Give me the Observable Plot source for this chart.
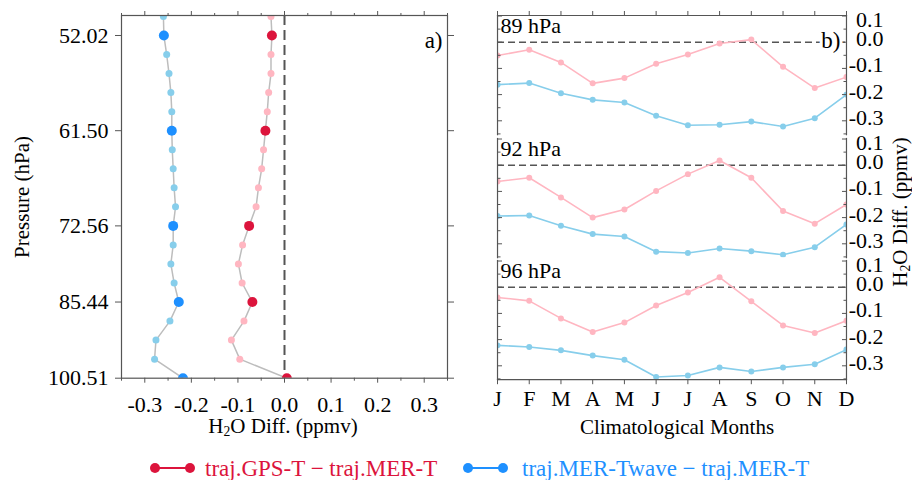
<!DOCTYPE html>
<html><head><meta charset="utf-8">
<script src="https://cdn.jsdelivr.net/npm/d3@7"></script>
<script src="https://cdn.jsdelivr.net/npm/@observablehq/plot@0.6"></script>
<style>
body{margin:0;background:#fff;}
#root{position:relative;width:912px;height:480px;overflow:hidden;font-family:"Liberation Serif","Times New Roman",serif;color:#000;background:#fff;}
#root svg.plotsvg{position:absolute;}
.lbl{position:absolute;white-space:nowrap;font-size:21px;line-height:1;}
.lbl sub{font-size:0.65em;vertical-align:-0.25em;line-height:0;}
</style></head><body><div id="root"></div>
<script>
// ---- Panel a) : vertical profile ----
const levelIndex = [0,1,2,3,4,5,6,7,8,9,10,11,12,13,14,15,16,17,18,19];
const gpsProfile  = [-0.029,-0.027,-0.029,-0.029,-0.034,-0.037,-0.041,-0.045,-0.049,-0.056,-0.061,-0.076,-0.090,-0.099,-0.091,-0.069,-0.087,-0.114,-0.096,0.005];
const waveProfile = [-0.260,-0.259,-0.253,-0.248,-0.244,-0.242,-0.242,-0.241,-0.239,-0.237,-0.234,-0.239,-0.239,-0.244,-0.237,-0.227,-0.246,-0.276,-0.279,-0.218];
const levelTickIndex  = [1,6,11,15,19];
const levelTickLabels = ["52.02","61.50","72.56","85.44","100.51"];
const xMajorTicks = [-0.3,-0.2,-0.1,0,0.1,0.2,0.3];
const xMinorTicks = [-0.35,-0.25,-0.15,-0.05,0.05,0.15,0.25,0.35];

// ---- Panel b) : monthly climatology ----
const months = ["J","F","M","A","M","J","J","A","S","O","N","D"];
const monthIdx = [0,1,2,3,4,5,6,7,8,9,10,11];
const panelLabels = ["89 hPa","92 hPa","96 hPa"];
const gps89  = [-0.051,-0.029,-0.077,-0.157,-0.137,-0.082,-0.047,-0.005,0.010,-0.094,-0.175,-0.133];
const wave89 = [-0.162,-0.156,-0.195,-0.220,-0.230,-0.281,-0.317,-0.315,-0.303,-0.322,-0.290,-0.200];
const gps92  = [-0.062,-0.048,-0.123,-0.200,-0.169,-0.098,-0.034,0.018,-0.048,-0.175,-0.223,-0.150];
const wave92 = [-0.194,-0.192,-0.231,-0.263,-0.272,-0.330,-0.335,-0.318,-0.328,-0.342,-0.313,-0.226];
const gps96  = [-0.039,-0.052,-0.119,-0.171,-0.135,-0.070,-0.020,0.038,-0.054,-0.146,-0.175,-0.128];
const wave96 = [-0.222,-0.228,-0.241,-0.261,-0.277,-0.343,-0.337,-0.306,-0.322,-0.306,-0.294,-0.238];
const yMajorTicks = [-0.3,-0.2,-0.1,0,0.1];
const yLowerLabels = [-0.3,-0.2,-0.1,0];
const yTopLabels = [0.1];
const yMinorTicks = [-0.35,-0.25,-0.15,-0.05,0.05];

const RED = "#DC143C", BLUE = "#1E90FF", PINK = "#FFB6C1", SKY = "#87CEEB";
const AXC = "#555";
const FONT = "Liberation Serif, Times New Roman, serif";
const root = document.getElementById("root");
const baseStyle = {fontFamily: FONT, fontSize: "22px", background: "transparent", overflow: "visible", color: "#000"};
const fmt1 = d => (Math.abs(d) < 1e-9 ? 0 : d).toFixed(1);

function place(svg, left, top) {
  svg.classList.add("plotsvg");
  svg.style.position = "absolute";
  svg.style.left = left + "px";
  svg.style.top = top + "px";
  svg.style.maxWidth = "none";
  root.appendChild(svg);
}

// Left plot
const profRows = levelIndex.map((i, k) => ({i, gps: gpsProfile[k], wave: waveProfile[k], major: levelTickIndex.includes(i)}));
const leftPlot = Plot.plot({
  width: 470, height: 420,
  marginLeft: 121, marginRight: 23, marginTop: 15, marginBottom: 42.3,
  x: {domain: [-0.35, 0.35], label: null},
  y: {domain: [19, -0.05], label: null},
  style: baseStyle,
  marks: [
    Plot.ruleX([0], {stroke: AXC, strokeWidth: 2, strokeDasharray: "10,5"}),
    Plot.line(profRows, {x: "wave", y: "i", stroke: "#bdbdbd", strokeWidth: 1.5, clip: true}),
    Plot.line(profRows, {x: "gps", y: "i", stroke: "#bdbdbd", strokeWidth: 1.5, clip: true}),
    Plot.dot(profRows.filter(d => !d.major), {x: "wave", y: "i", r: 3.5, fill: SKY, clip: true}),
    Plot.dot(profRows.filter(d => !d.major), {x: "gps", y: "i", r: 3.5, fill: PINK, clip: true}),
    Plot.dot(profRows.filter(d => d.major), {x: "wave", y: "i", r: 5, fill: BLUE, clip: true}),
    Plot.dot(profRows.filter(d => d.major), {x: "gps", y: "i", r: 5, fill: RED, clip: true}),
    Plot.frame({stroke: AXC, strokeWidth: 1.2}),
    Plot.axisX(xMajorTicks, {anchor: "bottom", tickSize: 5, tickPadding: 13, tickFormat: fmt1, label: null, stroke: AXC, fill: "#000"}),
    Plot.axisX(xMinorTicks, {anchor: "bottom", tickSize: 3, tickFormat: () => "", label: null, stroke: AXC}),
    Plot.axisX(xMajorTicks, {anchor: "top", tickSize: 5, tickFormat: () => "", label: null, stroke: AXC}),
    Plot.axisX(xMinorTicks, {anchor: "top", tickSize: 3, tickFormat: () => "", label: null, stroke: AXC}),
    Plot.axisY(levelTickIndex, {anchor: "left", tickSize: 6, tickPadding: 7, tickFormat: d => levelTickLabels[levelTickIndex.indexOf(d)], label: null, stroke: AXC, fill: "#000"}),
    Plot.axisY(levelTickIndex, {anchor: "right", tickSize: 6, tickFormat: () => "", label: null, stroke: AXC}),
    Plot.text(["a)"], {frameAnchor: "top-right", dx: -5, dy: 16.5, fontSize: 23, fill: "#000"})
  ]
});
place(leftPlot, 0, 0);

// Right subpanels
const PH = 119.2;
function subPanel(label, gps, wave, o) {
  const rows = monthIdx.map(i => ({i, gps: gps[i], wave: wave[i]}));
  return Plot.plot({
    width: 432, height: o.mt + PH + o.mb,
    marginLeft: 17, marginRight: 66, marginTop: o.mt, marginBottom: o.mb,
    x: {domain: [0, 11], label: null, axis: null},
    y: {domain: [-0.353, 0.102], label: null, axis: null},
    style: baseStyle,
    marks: [
      Plot.ruleY([0], {stroke: AXC, strokeWidth: 1.5, strokeDasharray: "7,4"}),
      Plot.line(rows, {x: "i", y: "gps", stroke: PINK, strokeWidth: 1.6, clip: true}),
      Plot.dot(rows, {x: "i", y: "gps", r: 3, fill: PINK, clip: true}),
      Plot.line(rows, {x: "i", y: "wave", stroke: SKY, strokeWidth: 1.6, clip: true}),
      Plot.dot(rows, {x: "i", y: "wave", r: 3, fill: SKY, clip: true}),
      Plot.frame({anchor: "left", stroke: AXC, strokeWidth: 1.2}),
      Plot.frame({anchor: "right", stroke: AXC, strokeWidth: 1.2}),
      o.top ? Plot.frame({anchor: "top", stroke: AXC, strokeWidth: 1.2}) : null,
      o.top ? Plot.axisX(monthIdx, {anchor: "top", tickSize: 5, tickFormat: () => "", label: null, stroke: AXC}) : null,
      o.bottom ? Plot.frame({anchor: "bottom", stroke: AXC, strokeWidth: 1.2}) : null,
      o.bottom ? Plot.axisX(monthIdx, {anchor: "bottom", tickSize: 5, tickPadding: 5.5, tickFormat: i => months[i], label: null, stroke: AXC, fill: "#000"}) : null,
      Plot.axisY(yMajorTicks, {anchor: "left", tickSize: -5, tickFormat: () => "", label: null, stroke: AXC}),
      Plot.axisY(yMinorTicks, {anchor: "left", tickSize: -3.5, tickFormat: () => "", label: null, stroke: AXC}),
      Plot.axisY(yMajorTicks, {anchor: "right", tickSize: -5, tickFormat: () => "", label: null, stroke: AXC}),
      Plot.axisY(yMinorTicks, {anchor: "right", tickSize: -3.5, tickFormat: () => "", label: null, stroke: AXC}),
      Plot.axisY(yLowerLabels, {anchor: "right", tickSize: 0, tickPadding: 37, textAnchor: "end", dy: -3, tickFormat: fmt1, label: null, fill: "#000"}),
      Plot.axisY(yTopLabels, {anchor: "right", tickSize: 0, tickPadding: 37, textAnchor: "end", dy: 4, tickFormat: fmt1, label: null, fill: "#000"}),
      Plot.text([label], {frameAnchor: "top-left", dx: 3, dy: 2, fontSize: 22, fill: "#000"}),
      o.top ? Plot.text(["b)"], {frameAnchor: "top-right", dx: -6, dy: 16.5, fontSize: 23, fill: "#000", stroke: "white", strokeWidth: 6}) : null
    ]
  });
}
place(subPanel(panelLabels[0], gps89, wave89, {mt: 15, mb: 3, top: true}), 480, 0);
place(subPanel(panelLabels[1], gps92, wave92, {mt: 3, mb: 3}), 480, 134.5);
place(subPanel(panelLabels[2], gps96, wave96, {mt: 3, mb: 60, bottom: true}), 480, 257);

// Axis titles (HTML text)
function addLabel(html, css) {
  const d = document.createElement("div");
  d.className = "lbl";
  d.innerHTML = html;
  Object.assign(d.style, css);
  root.appendChild(d);
  return d;
}
addLabel("H<sub>2</sub>O Diff. (ppmv)", {left: "283px", top: "416px", transform: "translateX(-50%)"});
addLabel("Climatological Months", {left: "677px", top: "417px", transform: "translateX(-50%)"});
addLabel("Pressure (hPa)", {left: "22px", top: "197px", transform: "translate(-50%,-50%) rotate(-90deg)"});
addLabel("H<sub>2</sub>O Diff. (ppmv)", {left: "900px", top: "212px", transform: "translate(-50%,-50%) rotate(-90deg)"});

// Legend
function legendItem(color, left, textLeft, text) {
  const ns = "http://www.w3.org/2000/svg";
  const s = document.createElementNS(ns, "svg");
  s.setAttribute("width", 50); s.setAttribute("height", 16);
  s.style.position = "absolute"; s.style.left = left + "px"; s.style.top = "460px";
  s.innerHTML = `<line x1="7" y1="8" x2="42" y2="8" stroke="${color}" stroke-width="2"/><circle cx="7" cy="8" r="5" fill="${color}"/><circle cx="42" cy="8" r="5" fill="${color}"/>`;
  root.appendChild(s);
  addLabel(text, {left: textLeft + "px", top: "457px", fontSize: "23px", color});
}
legendItem(RED, 148, 205, "traj.GPS-T \u2212 traj.MER-T");
legendItem(BLUE, 461, 522, "traj.MER-Twave \u2212 traj.MER-T");
</script></body></html>
